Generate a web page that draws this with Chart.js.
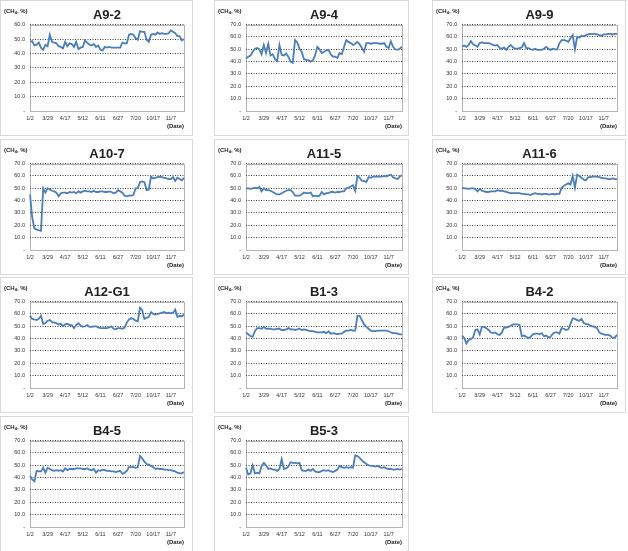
<!DOCTYPE html>
<html>
<head>
<meta charset="utf-8">
<script src="https://cdn.jsdelivr.net/npm/chart.js@4"></script>
<style>
  body { margin: 0; background: #fff; width: 628px; height: 551px; overflow: hidden; position: relative; font-family: "Liberation Sans", Arial, sans-serif; }
  .panel { position: absolute; border: 1px solid #d9d9d9; box-sizing: border-box; background: #fff; }
  .panel canvas { position: absolute; left: 0; top: 0; }
  .ylab { position: absolute; left: 3px; top: 7px; font-size: 6px; font-weight: bold; color: #222; white-space: nowrap; }
  .ylab sub { font-size: 4px; vertical-align: -1px; }
</style>
</head>
<body>
<script>
// tick labels on the date axis (one every 8 points)
const dates = ["1/2", "3/29", "4/17", "5/12", "6/11", "6/27", "7/20", "10/17", "11/7"];

// CH4 (%) readings per site
const a9_2 = [48, 48.5, 45.5, 46, 47.5, 44, 42.5, 46, 45, 53, 48, 47.5, 47, 45, 44.5, 43.5, 48, 45, 47, 46.5, 44.5, 48, 43, 44, 44.5, 49, 47.5, 46, 45.5, 46.5, 44.5, 45.5, 42.5, 42, 44.5, 44, 44.5, 44, 44, 44, 44, 44, 47.5, 47, 47, 53, 53.5, 53, 50.5, 49.5, 55.5, 55, 55, 49.5, 48, 53, 53.5, 53, 54.5, 53.5, 54, 53.5, 53.5, 54, 56, 55, 54, 52, 52, 49, 50];
const a9_4 = [42.5, 44, 45, 48, 50.5, 51, 50, 46, 53.5, 47, 54.5, 45, 46, 42, 40.5, 53.5, 45.5, 45, 46.5, 44, 40, 39, 57.5, 55.5, 50.5, 48, 42, 41.5, 41, 40, 41, 45, 52, 50, 47, 48, 49, 49.5, 46, 44, 44, 43, 47, 46, 52, 57.5, 56, 55, 53.5, 54.5, 56, 54, 51, 48, 55, 55, 54.5, 55, 55, 55, 54.5, 54.5, 55, 52, 51, 56.5, 52, 50, 49.5, 50.5, 52];
const a9_9 = [52, 53, 52, 53.5, 56.5, 54, 53, 52, 55, 55.5, 55, 55, 55, 54.5, 53.5, 53, 53.5, 51, 50.5, 51.5, 49.5, 52, 53.5, 51.5, 50.5, 50.5, 51, 51.5, 55, 51, 51, 50, 49.5, 50.5, 49.5, 49.5, 49.5, 50.5, 52, 50.5, 49.5, 50.5, 50, 50, 55, 57.5, 57.5, 57, 56, 59, 61.5, 50, 60, 59.5, 61, 60.5, 61.5, 62, 62.5, 62.5, 62.5, 62, 61.5, 61, 62, 62, 62.5, 62.5, 62, 62.5, 62.5];
const a10_7 = [45, 26.5, 17.5, 16.5, 16, 15.5, 50, 46.5, 50, 49, 48, 47.5, 46.5, 43.5, 46, 46.5, 46.5, 46, 47, 46.5, 47, 46, 47.5, 46.5, 47.5, 48, 47.5, 47.5, 47, 48, 47, 47, 47.5, 47.5, 47, 47, 47.5, 47, 46, 46.5, 48.5, 47.5, 46.5, 44, 43.5, 44, 44, 44.5, 50, 50, 55, 55.5, 55, 48.5, 49, 59.5, 58, 58.5, 59, 59.5, 59, 58.5, 58, 57.5, 57.5, 59, 56, 58.5, 57.5, 56.5, 58.5];
const a11_5 = [50, 50, 49.5, 50, 50.5, 50, 51, 47.5, 50, 48.5, 48.5, 48, 47, 46, 45, 45, 46, 47, 48, 48.5, 48.5, 47, 44, 44, 44, 45, 46.5, 46, 46, 46.5, 43.5, 44, 43.5, 44, 47, 45, 46, 46, 47, 47, 46.5, 47, 47, 47.5, 47.5, 50, 50.5, 51.5, 52.5, 48, 60, 58.5, 56, 56, 55, 59, 58.5, 59.5, 59.5, 59.5, 59.5, 59.5, 60, 59.5, 60.5, 61, 59, 58, 57.5, 59.5, 60.5];
const a11_6 = [50.5, 50, 50, 49.5, 50, 50, 49.5, 47.5, 49.5, 48, 47.5, 47, 47, 47.5, 47.5, 47.5, 48.5, 48, 48, 47.5, 47, 46.5, 46, 46, 46, 46, 46, 45.5, 45.5, 45, 45, 44.5, 45.5, 46, 45.5, 45.5, 45, 45.5, 45.5, 45, 45, 45.5, 45, 45.5, 45.5, 50.5, 52, 53, 54, 53, 60, 50.5, 61, 60, 58.5, 57, 56.5, 59, 59, 59.5, 59.5, 59.5, 59, 58.5, 58, 58, 57.5, 57.5, 58, 57.5, 57.5];
const a12_g1 = [58.5, 56, 55.5, 55, 56, 58.5, 52, 52.5, 54.5, 55, 53.5, 53, 52.5, 51.5, 52, 50, 51.5, 52, 51, 51, 48.5, 51, 52.5, 50.5, 49.5, 50, 51, 49.5, 49.5, 50, 50, 49, 48.5, 48.5, 48.5, 48.5, 49, 50, 48, 47.5, 48.5, 48.5, 48, 49, 53, 55.5, 56.5, 56, 54.5, 54, 65, 63, 56, 57, 57.5, 61.5, 60, 59.5, 60, 60.5, 61, 61.5, 60.5, 61, 60.5, 61, 63.5, 57.5, 58.5, 58, 59.5];
const b1_3 = [45, 43.5, 42, 41.5, 46, 48.5, 48.5, 48, 49.5, 48, 48, 48, 47.5, 47.5, 48, 48, 47, 47, 47.5, 48.5, 47.5, 47.5, 47, 47.5, 48, 47, 47.5, 47, 46.5, 46, 46, 45.5, 45, 45, 45, 45.5, 44.5, 46, 44, 44.5, 44, 43.5, 44, 44, 45.5, 46.5, 46.5, 47, 46.5, 46.5, 58.5, 58.5, 55, 51.5, 49.5, 48, 46.5, 46, 46, 46.5, 46.5, 46.5, 46.5, 46.5, 46, 45, 44.5, 44.5, 44, 43.5, 43.5];
const b4_2 = [42.5, 40.5, 36, 39, 39.5, 41, 47, 47.5, 43.5, 49.5, 49.5, 48.5, 47, 45, 44.5, 45, 43.5, 43, 45, 49, 49, 49.5, 50.5, 51.5, 51.5, 51.5, 51, 42, 42.5, 41.5, 40.5, 41.5, 43.5, 44, 44, 43.5, 44.5, 42, 42.5, 41, 41.5, 44, 45, 45, 44, 48.5, 48, 47, 47.5, 52, 56.5, 56, 55, 54.5, 56, 52.5, 52, 51.5, 50.5, 50, 49.5, 48.5, 45, 44, 43.5, 43, 43, 42.5, 40.5, 41, 43];
const b4_5 = [41.5, 38.5, 37, 45.5, 45, 45, 48, 44, 48, 47, 46, 45.5, 46, 45.5, 46, 45, 47.5, 46, 47, 47, 47, 47.5, 47.5, 47.5, 47, 47, 47.5, 46.5, 46, 47, 44, 46, 45.5, 46.5, 46, 45.5, 45.5, 45, 45, 44.5, 45, 45.5, 43, 44, 45.5, 48.5, 48.5, 48.5, 48, 48.5, 57.5, 55.5, 53, 51, 50.5, 49.5, 48.5, 47, 47.5, 47, 47, 46.5, 46.5, 46, 46, 45.5, 45, 44, 43.5, 43.5, 44.5];
const b5_3 = [48, 42.5, 43.5, 50, 43.5, 44, 43.5, 49.5, 52, 50, 47, 47.5, 46.5, 46.5, 45.5, 47, 55, 47, 47.5, 49, 52.5, 52, 52, 51.5, 52, 46, 45.5, 45.5, 46.5, 45.5, 47, 45, 44.5, 44.5, 45.5, 46, 45.5, 46, 45, 44.5, 45.5, 46.5, 49.5, 48.5, 48, 48.5, 48, 48.5, 48, 58, 57.5, 56, 54, 52.5, 51, 50, 49.5, 49.5, 49, 49.5, 48.5, 48, 48.5, 47.5, 47, 47, 46.5, 46.5, 47, 46.5, 47];

const names = ["A9-2", "A9-4", "A9-9", "A10-7", "A11-5", "A11-6", "A12-G1", "B1-3", "B4-2", "B4-5", "B5-3"];
const series = [a9_2, a9_4, a9_9, a10_7, a11_5, a11_6, a12_g1, b1_3, b4_2, b4_5, b5_3];
const yMax = [60, 70, 70, 70, 70, 70, 70, 70, 70, 70, 70];

// panel layout
const colLeft = [0, 214, 432], colWidth = [193, 195, 194], plotLeft = [29, 31, 29], padRight = [8, 6, 8];
const rowTop = [0, 139, 277, 416], panelH = 136;

const labels = a9_2.map((v, i) => (i % 8 === 0 && dates[i / 8]) ? dates[i / 8] : "");

const frame = {
  id: "frame",
  beforeDraw(c) {
    const a = c.chartArea, ctx = c.ctx;
    ctx.save();
    ctx.strokeStyle = "#b3b3b3";
    ctx.lineWidth = 1;
    ctx.strokeRect(Math.round(a.left) + 0.5, Math.round(a.top) + 0.5, Math.round(a.width), Math.round(a.height));
    ctx.restore();
  }
};

const tickFont = { family: "Liberation Sans", size: 5.5 };

series.forEach((data, k) => {
  const col = k % 3, row = Math.floor(k / 3);
  const panel = document.createElement("div");
  panel.className = "panel";
  panel.style.left = colLeft[col] + "px";
  panel.style.top = rowTop[row] + "px";
  panel.style.width = colWidth[col] + "px";
  panel.style.height = panelH + "px";
  const cv = document.createElement("canvas");
  cv.width = colWidth[col] - 2;
  cv.height = panelH - 2;
  panel.appendChild(cv);
  const yl = document.createElement("div");
  yl.className = "ylab";
  yl.innerHTML = "(CH<sub>4</sub>, %)";
  panel.appendChild(yl);
  document.body.appendChild(panel);

  new Chart(cv, {
    type: "line",
    data: {
      labels: labels,
      datasets: [{
        data: data,
        borderColor: "#4a7ebb",
        backgroundColor: "#4a7ebb",
        borderWidth: 1.8,
        pointRadius: 0,
        tension: 0
      }]
    },
    options: {
      responsive: false,
      animation: false,
      devicePixelRatio: 1,
      layout: { padding: { left: 0, right: padRight[col], top: 0, bottom: 0 } },
      plugins: {
        legend: { display: false },
        tooltip: { enabled: false },
        title: {
          display: true,
          fullSize: false,
          text: names[k],
          color: "#222",
          font: { family: "Liberation Sans", size: 13, weight: "bold" },
          padding: { top: 7, bottom: 1 }
        }
      },
      scales: {
        x: {
          offset: false,
          grid: { display: false, drawTicks: false },
          border: { display: false },
          ticks: { autoSkip: false, maxRotation: 0, minRotation: 0, padding: 4, color: "#333", font: tickFont },
          title: {
            display: true,
            text: "(Date)",
            align: "end",
            color: "#222",
            font: { family: "Liberation Sans", size: 6, weight: "bold" },
            padding: { top: 0, bottom: 5 }
          },
          afterFit(s) { s.height = 24; }
        },
        y: {
          min: 0,
          max: yMax[k],
          grid: {
            drawTicks: false,
            lineWidth: 1,
            color: c => c.tick.value === 0 ? "rgba(0,0,0,0)" : "#404040"
          },
          border: { display: false, dash: [1, 1.5] },
          ticks: {
            stepSize: 10,
            padding: 5,
            color: "#333",
            font: tickFont,
            callback: v => v === 0 ? "-" : v.toFixed(1)
          },
          afterFit(s) { s.width = plotLeft[col]; }
        }
      }
    },
    plugins: [frame]
  });
});
</script>
</body>
</html>
